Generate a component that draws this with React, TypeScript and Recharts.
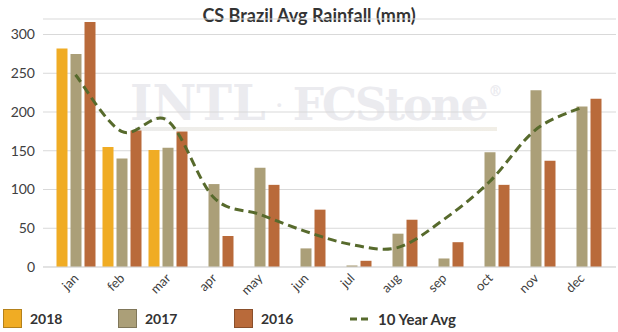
import React from "react";
import { ComposedChart, Bar, Line, XAxis, YAxis, CartesianGrid } from "recharts";

const months = ["jan", "feb", "mar", "apr", "may", "jun", "jul", "aug", "sep", "oct", "nov", "dec"];
const rain2018 = [282, 155, 151, null, null, null, null, null, null, null, null, null];
const rain2017 = [275, 140, 154, 107, 128, 24, 2, 43, 11, 148, 228, 207];
const rain2016 = [316, 176, 175, 40, 106, 74, 8, 61, 32, 106, 137, 217];
const avg10 = [248, 175, 189, 90, 68, 46, 29, 25, 61, 110, 177, 206];
const yTicks = [0, 50, 100, 150, 200, 250, 300];

const data = months.map((m, i) => ({
  month: m,
  y2018: rain2018[i],
  y2017: rain2017[i],
  y2016: rain2016[i],
  avg: avg10[i],
}));

const C2018 = "#f0ac24";
const C2017 = "#ab9f78";
const C2016 = "#b96a3a";
const CAVG = "#576a2c";
const FONT = "Lato, 'Open Sans', sans-serif";

// excel-like smoothed line (catmull-rom through the points)
const excelSmooth = (context: any) => {
  let pts: [number, number][] = [];
  return {
    areaStart() {},
    areaEnd() {},
    lineStart() {
      pts = [];
    },
    lineEnd() {
      if (!pts.length) return;
      context.moveTo(pts[0][0], pts[0][1]);
      for (let i = 0; i < pts.length - 1; i++) {
        const p0 = pts[Math.max(i - 1, 0)];
        const p1 = pts[i];
        const p2 = pts[i + 1];
        const p3 = pts[Math.min(i + 2, pts.length - 1)];
        context.bezierCurveTo(
          p1[0] + (p2[0] - p0[0]) / 6,
          p1[1] + (p2[1] - p0[1]) / 6,
          p2[0] - (p3[0] - p1[0]) / 6,
          p2[1] - (p3[1] - p1[1]) / 6,
          p2[0],
          p2[1]
        );
      }
    },
    point(x: number, y: number) {
      pts.push([+x, +y]);
    },
  };
};

const MonthTick = ({ x, y, payload }: any) => (
  <text
    transform={`translate(${x + 4},${y + 4}) rotate(-45)`}
    textAnchor="end"
    fill="#404040"
    fontSize={13}
    fontFamily={FONT}
  >
    {payload.value}
  </text>
);

const LegendBox = ({ color, label, left }: { color: string; label: string; left: number }) => (
  <div style={{ position: "absolute", left, top: 309, display: "flex", alignItems: "center" }}>
    <div style={{ width: 17, height: 17, background: color, border: "1px solid rgba(0,0,0,0.25)" }} />
    <span style={{ marginLeft: 8, fontSize: 14, fontWeight: 700, color: "#333" }}>{label}</span>
  </div>
);

export default function App() {
  return (
    <div style={{ position: "absolute", left: 0, top: 0, width: 618, height: 332, background: "#fff", fontFamily: FONT, overflow: "hidden" }}>
      {/* watermark */}
      <div style={{ position: "absolute", left: 130, top: 75, color: "#ebebef", fontFamily: "'DejaVu Serif', serif", fontWeight: 700, whiteSpace: "nowrap" }}>
        <span style={{ fontSize: 48 }}>INTL</span>
        <span style={{ fontSize: 20, margin: "0 10px", position: "relative", top: -8 }}>·</span>
        <span style={{ fontSize: 44, letterSpacing: -2 }}>FCStone</span>
        <span style={{ fontSize: 14, position: "relative", top: -24, marginLeft: 2 }}>®</span>
      </div>
      <div style={{ position: "absolute", left: 135, top: 127, width: 362, height: 4, background: "linear-gradient(90deg,#ececec,#f1eee6,#ececec,#f1eee6)" }} />
      <div style={{ position: "absolute", left: 0, top: 4, width: 618, textAlign: "center", fontSize: 18, fontWeight: 700, color: "#333" }}>
        CS Brazil Avg Rainfall (mm)
      </div>
      <div style={{ position: "absolute", left: 0, top: 0 }}>
        <ComposedChart width={618} height={332} data={data} margin={{ top: 19, right: 2, left: 8, bottom: 35 }} barSize={11} barGap={3}>
          <CartesianGrid stroke="#d9d9d9" vertical={false} />
          <XAxis
            dataKey="month"
            height={30}
            padding={{ left: 9.5, right: 11.5 }}
            tick={<MonthTick />}
            tickLine={false}
            axisLine={{ stroke: "#d9d9d9" }}
            interval={0}
          />
          <YAxis
            width={35}
            domain={[0, 320]}
            ticks={yTicks}
            tick={{ fill: "#404040", fontSize: 14, fontFamily: FONT }}
            tickLine={false}
            axisLine={false}
          />
          <Bar dataKey="y2018" fill={C2018} isAnimationActive={false} />
          <Bar dataKey="y2017" fill={C2017} isAnimationActive={false} />
          <Bar dataKey="y2016" fill={C2016} isAnimationActive={false} />
          <Line
            dataKey="avg"
            type={excelSmooth as any}
            stroke={CAVG}
            strokeWidth={3}
            strokeDasharray="9 5"
            dot={false}
            activeDot={false}
            isAnimationActive={false}
          />
        </ComposedChart>
      </div>
      <LegendBox color={C2018} label="2018" left={3} />
      <LegendBox color={C2017} label="2017" left={118} />
      <LegendBox color={C2016} label="2016" left={234} />
      <div style={{ position: "absolute", left: 350, top: 309, display: "flex", alignItems: "center", height: 19 }}>
        <svg width={19} height={6}>
          <line x1={0} y1={3} x2={19} y2={3} stroke={CAVG} strokeWidth={3} strokeDasharray="7 4" />
        </svg>
        <span style={{ marginLeft: 9, fontSize: 15, fontWeight: 700, color: "#333" }}>10 Year Avg</span>
      </div>
    </div>
  );
}
